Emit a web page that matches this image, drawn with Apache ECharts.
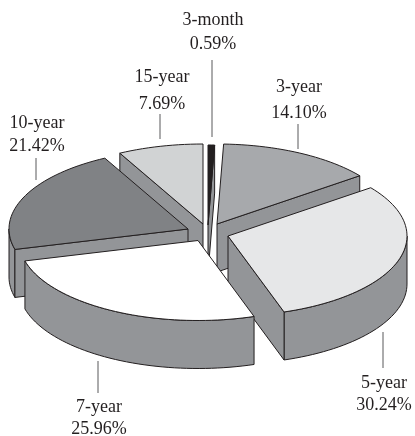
<!DOCTYPE html>
<html><head><meta charset="utf-8">
<style>html,body{margin:0;padding:0;background:#fff}#c{width:415px;height:436px}</style>
<script src="https://cdn.jsdelivr.net/npm/echarts@6/dist/echarts.min.js"></script>
</head><body><div id="c"></div>
<script>
const categories = ['3-month','3-year','5-year','7-year','10-year','15-year'];
const shares = [0.59,14.10,30.24,25.96,21.42,7.69];
const shareLabels = ['0.59%','14.10%','30.24%','25.96%','21.42%','7.69%'];
const topColors = ['#231f20','#a7a9ac','#e6e7e8','#ffffff','#808285','#d1d3d4'];

// view geometry, separate from the data
const RX = 179, RY = 80, DEPTH = 48, WALL = '#939598', INK = '#231f20';
const apexes = [[208,225],[217,224],[228,236],[198,240.5],[188,229],[203,224]];
const paintOrder = [0,5,1,4,2,3];
const labelPos = [[213,26.5,50],[299,93,119],[384,389,411.5],[99,413.5,435.5],[37,129,152],[162,83,110]];
const leaders = [[212,60,137],[298,124,149],[383,332,368],[98,361,393],[36,158,180],[160,114,139]];

const total = shares.reduce((a,b)=>a+b,0);
let run = 0;
const spans = shares.map(v=>{const a=run/total*360; run+=v; return [a,run/total*360];});
const rad = d=>d*Math.PI/180;

function renderItem(params, api){
  const i = params.dataIndex;
  const order = paintOrder.indexOf(i);
  const [a0,a1] = spans[Math.round(api.value(0))];
  const [ax,ay] = apexes[i];
  const pt = (x,y)=>api.coord([x,y]);
  const onRim = d=>[ax+RX*Math.sin(rad(d)), ay-RY*Math.cos(rad(d))];
  const sample = (from,to)=>{
    const out=[], n=Math.max(2,Math.ceil((to-from)/2));
    for(let s=0;s<=n;s++) out.push(onRim(from+(to-from)*s/n));
    return out;
  };
  const down = p=>[p[0],p[1]+DEPTH];
  const poly = (pts,fill,z)=>({type:'polygon',z2:order*10+z,
    shape:{points:pts.map(p=>pt(p[0],p[1]))},
    style:{fill:fill,stroke:INK,lineWidth:1,lineJoin:'round'}});
  const A=[ax,ay], S=onRim(a0), E=onRim(a1);
  const children = [];
  // rim wall: only the part of the rim facing the viewer
  const f0=Math.max(a0,90), f1=Math.min(a1,270);
  if(f1>f0){
    const rim=sample(f0,f1);
    children.push(poly(rim.concat(rim.slice().reverse().map(down)),WALL,0));
  }
  // radial walls: only those facing the viewer
  if(a0>180 && a0<360) children.push(poly([A,S,down(S),down(A)],WALL,1));
  if(a1>0 && a1<180) children.push(poly([A,E,down(E),down(A)],WALL,2));
  children.push(poly([A].concat(sample(a0,a1)),topColors[i],3));
  const lp = labelPos[i], ld = leaders[i];
  const c0 = pt(lp[0],lp[1]-6), c1 = pt(lp[0],lp[2]-6);
  const txt=(t,c)=>({type:'text',z2:200,style:{text:t,x:c[0],y:c[1],
    font:'18px "Liberation Serif"',fill:INK,textAlign:'center',textVerticalAlign:'middle'}});
  children.push(txt(categories[i],c0), txt(shareLabels[i],c1));
  const l0=pt(ld[0],ld[1]), l1=pt(ld[0],ld[2]);
  children.push({type:'line',z2:200,shape:{x1:l0[0],y1:l0[1],x2:l1[0],y2:l1[1]},
    style:{stroke:'#58595b',lineWidth:1}});
  return {type:'group',children};
}

const chart = echarts.init(document.getElementById('c'),null,{renderer:'canvas'});
chart.setOption({
  animation:false,
  backgroundColor:'#ffffff',
  grid:{left:0,right:0,top:0,bottom:0},
  xAxis:{type:'value',min:0,max:415,show:false},
  yAxis:{type:'value',min:0,max:436,inverse:true,show:false},
  series:[{type:'custom',coordinateSystem:'cartesian2d',clip:false,renderItem,
    encode:{x:0,y:1},
    data:shares.map((v,i)=>[i,v])}]
});
</script></body></html>
